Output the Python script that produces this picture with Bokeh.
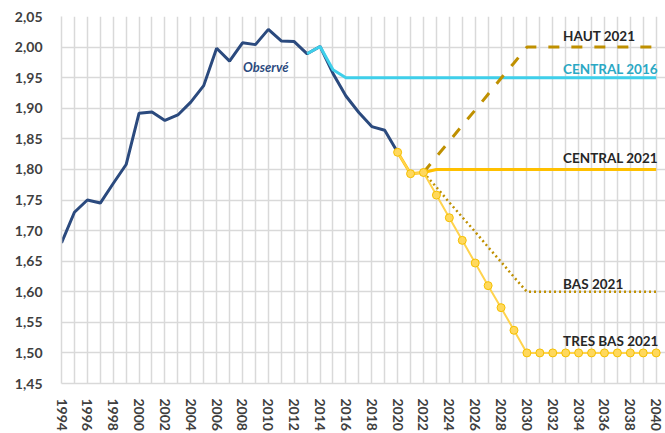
from bokeh.plotting import figure
from bokeh.models import Range1d, FixedTicker, CustomJSTickFormatter
from bokeh.core.properties import value
from bokeh.embed import file_html
from bokeh.resources import INLINE

# ---- data ----
obs_years = list(range(1994, 2021))
obs_vals = [1.680, 1.730, 1.750, 1.745, 1.777, 1.808, 1.892, 1.894, 1.880, 1.889,
            1.910, 1.937, 1.998, 1.977, 2.007, 2.004, 2.029, 2.010, 2.009, 1.989,
            2.001, 1.957, 1.920, 1.893, 1.870, 1.864, 1.828]

c2016_years = list(range(2013, 2041))
c2016_vals = [1.989, 2.001, 1.963] + [1.95] * 25

c2021_years = list(range(2020, 2041))
c2021_vals = [1.828, 1.793, 1.795] + [1.80] * 18

tb_years = list(range(2020, 2041))
tb_vals = [1.828, 1.793, 1.795, 1.758, 1.721, 1.684, 1.647, 1.610, 1.574, 1.537,
           1.50, 1.50, 1.50, 1.50, 1.50, 1.50, 1.50, 1.50, 1.50, 1.50, 1.50]

haut_years = list(range(2022, 2041))
haut_vals = [1.795, 1.821, 1.846, 1.872, 1.897, 1.923, 1.949, 1.974,
             2.00, 2.00, 2.00, 2.00, 2.00, 2.00, 2.00, 2.00, 2.00, 2.00, 2.00]

bas_years = list(range(2022, 2041))
bas_vals = [1.795, 1.771, 1.746, 1.722, 1.698, 1.673, 1.649, 1.624,
            1.60, 1.60, 1.60, 1.60, 1.60, 1.60, 1.60, 1.60, 1.60, 1.60, 1.60]

y_ticks = [1.45, 1.50, 1.55, 1.60, 1.65, 1.70, 1.75, 1.80, 1.85, 1.90, 1.95, 2.00, 2.05]
x_label_years = list(range(1994, 2041, 2))
grid_years = list(range(1994, 2041))

labels = ["HAUT 2021", "CENTRAL 2016", "CENTRAL 2021", "BAS 2021", "TRES BAS 2021"]
label_vals = [2.018, 1.9645, 1.818, 1.613, 1.519]
label_colors = ["#262626", "#2AA8C4", "#262626", "#262626", "#262626"]

# ---- figure ----
p = figure(width=665, height=433, output_backend="svg", toolbar_location=None,
           x_range=Range1d(1994, 2040.72), y_range=Range1d(1.45, 2.05),
           min_border_left=61, min_border_top=16, min_border_right=0, min_border_bottom=45)
p.outline_line_color = None
p.background_fill_color = "white"

p.xgrid.ticker = FixedTicker(ticks=grid_years)
p.ygrid.ticker = FixedTicker(ticks=y_ticks)
for g in (p.xgrid, p.ygrid):
    g.grid_line_color = "#D9D9D9"
    g.grid_line_width = 1.5

p.xaxis.ticker = FixedTicker(ticks=x_label_years)
p.yaxis.ticker = FixedTicker(ticks=y_ticks)
p.yaxis.formatter = CustomJSTickFormatter(code="return tick.toFixed(2).replace('.', ',');")
p.xaxis.major_label_orientation = "vertical"
for ax in (p.xaxis, p.yaxis):
    ax.axis_line_color = "#D9D9D9"
    ax.axis_line_width = 1.5
    ax.major_tick_line_color = None
    ax.minor_tick_line_color = None
    ax.major_label_text_font = "Lato"
    ax.major_label_text_font_style = "bold"
    ax.major_label_text_font_size = "14px"
    ax.major_label_text_color = "#404040"
p.yaxis.major_label_standoff = 13
p.xaxis.major_label_standoff = 9

# ---- series ----
p.line(obs_years, obs_vals, line_color="#2B4A7E", line_width=3)
p.line(c2016_years, c2016_vals, line_color="#3FCFEA", line_width=3)
p.line(haut_years, haut_vals, line_color="#BF9000", line_width=3, line_dash="11 12")
p.line(bas_years, bas_vals, line_color="#BF9000", line_width=2.5, line_dash="2 3")
p.line(c2021_years, c2021_vals, line_color="#FFC000", line_width=3)
p.line(tb_years, tb_vals, line_color="#FFD34E", line_width=2)
p.scatter(tb_years, tb_vals, size=8, fill_color="#FFD85C", line_color="#F5C000", line_width=1)

# ---- labels ----
p.text(x=[2032.8] * len(labels), y=label_vals, text=labels, text_color=label_colors,
       text_font=value("Lato"), text_font_style="bold", text_font_size="13.5px",
       text_align="left", text_baseline="middle")
p.text(x=[2009.8], y=[1.968], text=["Observé"], text_color="#2B4A7E",
       text_font=value("Lato"), text_font_style="bold italic", text_font_size="13px",
       text_align="center", text_baseline="middle")

open("out.html", "w").write(file_html(p, INLINE))
